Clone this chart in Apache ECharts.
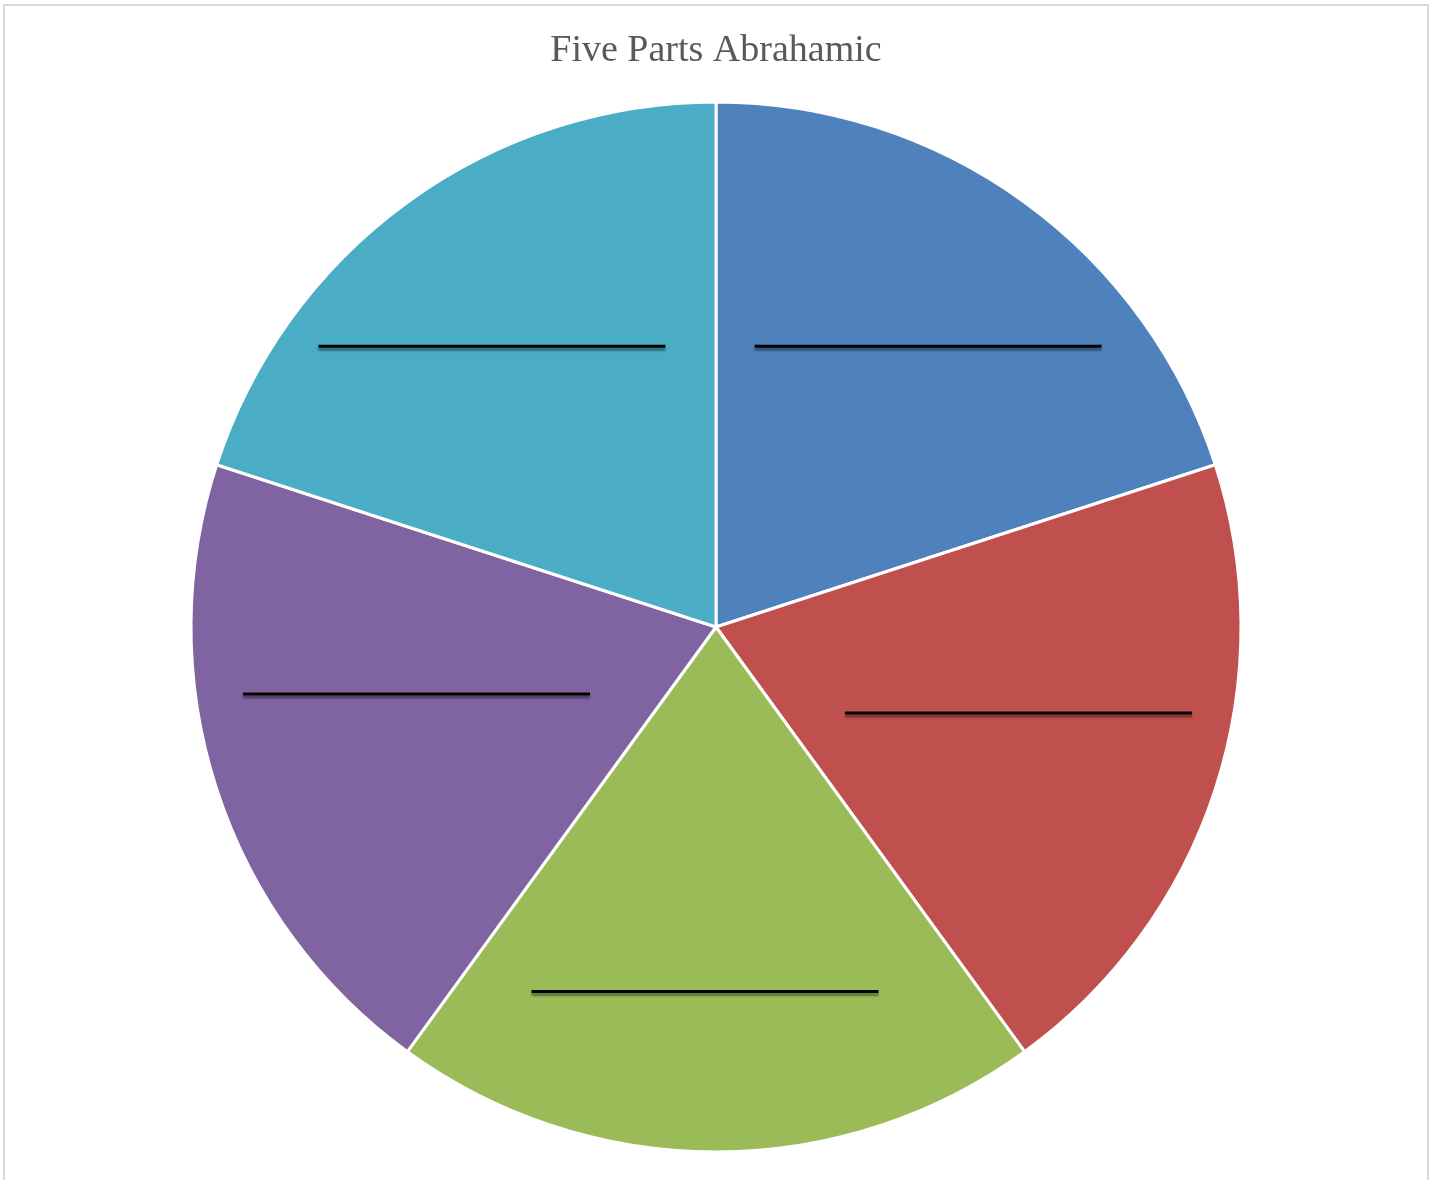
<!DOCTYPE html>
<html><head><meta charset="utf-8">
<script src="https://cdn.jsdelivr.net/npm/echarts@6/dist/echarts.min.js"></script>
<style>
html,body{margin:0;padding:0;background:#fff;}
#frame{position:absolute;left:3px;top:4px;width:1422px;height:1190px;border:2px solid #d9d9d9;border-bottom:none;background:#fff;}
#chart{position:absolute;left:0;top:0;width:1422px;height:1180px;}
</style></head>
<body><div id="frame"><div id="chart"></div></div>
<script>
const titleText = 'Five Parts Abrahamic';
const categories = ['Part 1','Part 2','Part 3','Part 4','Part 5'];
const values = [1,1,1,1,1];
const colors = ['#4F81BD','#C0504D','#9BBB59','#8064A2','#4BACC6'];
const labelOffsets = [[56,-66],[50,4],[-11,99],[-47,-15],[-68,-66]];

const chart = echarts.init(document.getElementById('chart'));
chart.setOption({
  animation:false,
  title:{text:titleText,left:'center',top:21,textStyle:{fontFamily:'Liberation Serif',fontSize:38,fontWeight:'normal',color:'#595959'}},
  series:[{
    type:'pie',
    center:[711,621],
    radius:[0,525],
    startAngle:90,
    clockwise:true,
    itemStyle:{borderColor:'#fff',borderWidth:3},
    label:{show:true,position:'inside',formatter:'{u| }',
      rich:{u:{width:347,height:3,lineHeight:3,fontSize:1,backgroundColor:'#000',shadowColor:'rgba(0,0,0,0.4)',shadowOffsetY:3,shadowBlur:2}}},
    labelLine:{show:false},
    emphasis:{disabled:true},
    data:categories.map((c,i)=>({name:c,value:values[i],itemStyle:{color:colors[i]},label:{offset:labelOffsets[i]}}))
  }]
});
</script></body></html>
